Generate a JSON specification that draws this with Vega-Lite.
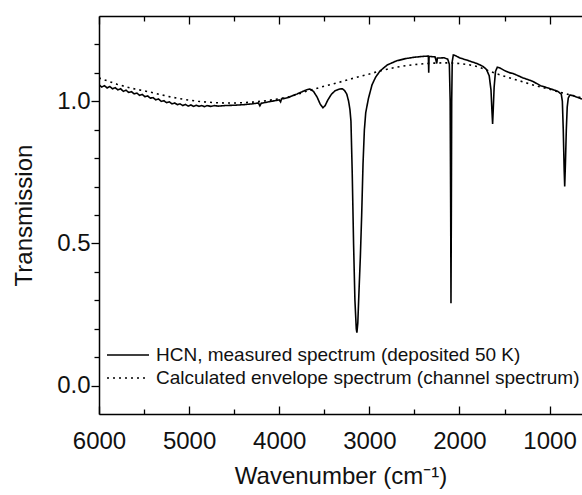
{
  "$schema": "https://vega.github.io/schema/vega-lite/v6.json",
  "width": 483,
  "height": 398,
  "autosize": {"type": "none"},
  "padding": {"left": 99, "top": 16, "right": 0, "bottom": 81},
  "background": "white",
  "config": {
    "view": {"stroke": null},
    "font": "Liberation Sans",
    "axis": {
      "grid": false,
      "domainColor": "black",
      "domainWidth": 1.5,
      "tickColor": "black",
      "tickWidth": 1.3,
      "labelColor": "#111",
      "titleColor": "#111",
      "labelFont": "Liberation Sans",
      "titleFont": "Liberation Sans",
      "labelFontSize": 24,
      "titleFontSize": 24,
      "titleFontWeight": "normal",
      "labelFlush": false,
      "labelOverlap": false,
      "labelBound": false
    }
  },
  "datasets": {
    "spec": [
      {"wn": 6000, "t": 1.058, "s": "a"}, {"wn": 5970, "t": 1.050, "s": "a"}, {"wn": 5940, "t": 1.055, "s": "a"},
      {"wn": 5910, "t": 1.047, "s": "a"}, {"wn": 5880, "t": 1.052, "s": "a"}, {"wn": 5850, "t": 1.044, "s": "a"},
      {"wn": 5820, "t": 1.048, "s": "a"}, {"wn": 5790, "t": 1.040, "s": "a"}, {"wn": 5760, "t": 1.044, "s": "a"},
      {"wn": 5730, "t": 1.035, "s": "a"}, {"wn": 5700, "t": 1.039, "s": "a"}, {"wn": 5670, "t": 1.031, "s": "a"},
      {"wn": 5640, "t": 1.034, "s": "a"}, {"wn": 5610, "t": 1.026, "s": "a"}, {"wn": 5580, "t": 1.029, "s": "a"},
      {"wn": 5550, "t": 1.021, "s": "a"}, {"wn": 5520, "t": 1.024, "s": "a"}, {"wn": 5490, "t": 1.016, "s": "a"},
      {"wn": 5460, "t": 1.019, "s": "a"}, {"wn": 5430, "t": 1.011, "s": "a"}, {"wn": 5400, "t": 1.013, "s": "a"},
      {"wn": 5370, "t": 1.005, "s": "a"}, {"wn": 5340, "t": 1.008, "s": "a"}, {"wn": 5310, "t": 1.000, "s": "a"},
      {"wn": 5280, "t": 1.002, "s": "a"}, {"wn": 5250, "t": 0.995, "s": "a"}, {"wn": 5220, "t": 0.998, "s": "a"},
      {"wn": 5190, "t": 0.991, "s": "a"}, {"wn": 5160, "t": 0.994, "s": "a"}, {"wn": 5130, "t": 0.988, "s": "a"},
      {"wn": 5100, "t": 0.991, "s": "a"}, {"wn": 5070, "t": 0.985, "s": "a"}, {"wn": 5040, "t": 0.989, "s": "a"},
      {"wn": 5010, "t": 0.983, "s": "a"}, {"wn": 4980, "t": 0.987, "s": "a"}, {"wn": 4950, "t": 0.982, "s": "a"},
      {"wn": 4920, "t": 0.986, "s": "a"}, {"wn": 4890, "t": 0.982, "s": "a"}, {"wn": 4860, "t": 0.985, "s": "a"},
      {"wn": 4830, "t": 0.981, "s": "a"}, {"wn": 4800, "t": 0.985, "s": "a"}, {"wn": 4760, "t": 0.982, "s": "a"},
      {"wn": 4720, "t": 0.985, "s": "a"}, {"wn": 4680, "t": 0.983, "s": "a"}, {"wn": 4600, "t": 0.985, "s": "a"},
      {"wn": 4500, "t": 0.986, "s": "a"}, {"wn": 4400, "t": 0.988, "s": "a"}, {"wn": 4300, "t": 0.991, "s": "a"},
      {"wn": 4230, "t": 0.994, "s": "a"}, {"wn": 4215, "t": 0.984, "s": "a"}, {"wn": 4200, "t": 0.993, "s": "a"},
      {"wn": 4100, "t": 0.999, "s": "a"}, {"wn": 4000, "t": 1.005, "s": "a"}, {"wn": 3985, "t": 0.998, "s": "a"},
      {"wn": 3975, "t": 1.008, "s": "a"}, {"wn": 3900, "t": 1.013, "s": "a"}, {"wn": 3850, "t": 1.020, "s": "a"},
      {"wn": 3800, "t": 1.026, "s": "a"}, {"wn": 3750, "t": 1.033, "s": "a"}, {"wn": 3700, "t": 1.040, "s": "a"},
      {"wn": 3660, "t": 1.043, "s": "a"}, {"wn": 3620, "t": 1.035, "s": "a"}, {"wn": 3580, "t": 1.015, "s": "a"},
      {"wn": 3545, "t": 0.990, "s": "a"}, {"wn": 3515, "t": 0.977, "s": "a"}, {"wn": 3490, "t": 0.985, "s": "a"},
      {"wn": 3460, "t": 1.005, "s": "a"}, {"wn": 3420, "t": 1.025, "s": "a"}, {"wn": 3380, "t": 1.037, "s": "a"},
      {"wn": 3330, "t": 1.043, "s": "a"}, {"wn": 3300, "t": 1.044, "s": "a"}, {"wn": 3275, "t": 1.038, "s": "a"},
      {"wn": 3250, "t": 1.025, "s": "a"}, {"wn": 3230, "t": 1.000, "s": "a"}, {"wn": 3215, "t": 0.970, "s": "a"},
      {"wn": 3204, "t": 0.930, "s": "a"}, {"wn": 3190, "t": 0.750, "s": "a"}, {"wn": 3175, "t": 0.500, "s": "a"},
      {"wn": 3160, "t": 0.300, "s": "a"}, {"wn": 3145, "t": 0.200, "s": "a"}, {"wn": 3138, "t": 0.186, "s": "a"},
      {"wn": 3128, "t": 0.220, "s": "a"}, {"wn": 3115, "t": 0.330, "s": "a"}, {"wn": 3100, "t": 0.450, "s": "a"},
      {"wn": 3085, "t": 0.600, "s": "a"}, {"wn": 3070, "t": 0.780, "s": "a"}, {"wn": 3055, "t": 0.900, "s": "a"},
      {"wn": 3040, "t": 0.960, "s": "a"}, {"wn": 3010, "t": 1.010, "s": "a"}, {"wn": 2970, "t": 1.058, "s": "a"},
      {"wn": 2930, "t": 1.085, "s": "a"}, {"wn": 2880, "t": 1.107, "s": "a"}, {"wn": 2800, "t": 1.128, "s": "a"},
      {"wn": 2700, "t": 1.142, "s": "a"}, {"wn": 2600, "t": 1.150, "s": "a"}, {"wn": 2500, "t": 1.155, "s": "a"},
      {"wn": 2400, "t": 1.158, "s": "a"}, {"wn": 2345, "t": 1.159, "s": "a"}, {"wn": 2341, "t": 1.100, "s": "a"},
      {"wn": 2337, "t": 1.158, "s": "a"}, {"wn": 2270, "t": 1.156, "s": "a"}, {"wn": 2252, "t": 1.133, "s": "a"},
      {"wn": 2245, "t": 1.152, "s": "a"}, {"wn": 2170, "t": 1.153, "s": "a"}, {"wn": 2130, "t": 1.148, "s": "a"},
      {"wn": 2112, "t": 1.130, "s": "a"}, {"wn": 2103, "t": 1.000, "s": "a"}, {"wn": 2097, "t": 0.600, "s": "a"},
      {"wn": 2094, "t": 0.290, "s": "a"}, {"wn": 2090, "t": 0.600, "s": "a"}, {"wn": 2086, "t": 1.000, "s": "a"},
      {"wn": 2080, "t": 1.140, "s": "a"}, {"wn": 2068, "t": 1.163, "s": "a"}, {"wn": 2040, "t": 1.160, "s": "a"},
      {"wn": 2000, "t": 1.153, "s": "a"}, {"wn": 1900, "t": 1.143, "s": "a"}, {"wn": 1800, "t": 1.132, "s": "a"},
      {"wn": 1740, "t": 1.123, "s": "a"}, {"wn": 1700, "t": 1.112, "s": "a"}, {"wn": 1670, "t": 1.090, "s": "a"},
      {"wn": 1650, "t": 1.040, "s": "a"}, {"wn": 1640, "t": 0.970, "s": "a"}, {"wn": 1632, "t": 0.920, "s": "a"},
      {"wn": 1625, "t": 0.970, "s": "a"}, {"wn": 1615, "t": 1.050, "s": "a"}, {"wn": 1600, "t": 1.105, "s": "a"},
      {"wn": 1580, "t": 1.120, "s": "a"}, {"wn": 1550, "t": 1.117, "s": "a"}, {"wn": 1500, "t": 1.108, "s": "a"},
      {"wn": 1440, "t": 1.100, "s": "a"}, {"wn": 1407, "t": 1.098, "s": "a"}, {"wn": 1300, "t": 1.083, "s": "a"},
      {"wn": 1185, "t": 1.070, "s": "a"}, {"wn": 1100, "t": 1.055, "s": "a"}, {"wn": 1000, "t": 1.045, "s": "a"},
      {"wn": 908, "t": 1.035, "s": "a"}, {"wn": 870, "t": 1.025, "s": "a"}, {"wn": 858, "t": 1.000, "s": "a"},
      {"wn": 848, "t": 0.900, "s": "a"}, {"wn": 838, "t": 0.760, "s": "a"}, {"wn": 832, "t": 0.700, "s": "a"},
      {"wn": 824, "t": 0.780, "s": "a"}, {"wn": 814, "t": 0.900, "s": "a"}, {"wn": 804, "t": 0.980, "s": "a"},
      {"wn": 792, "t": 1.012, "s": "a"}, {"wn": 775, "t": 1.022, "s": "a"}, {"wn": 740, "t": 1.020, "s": "a"},
      {"wn": 700, "t": 1.015, "s": "a"}, {"wn": 640, "t": 1.008, "s": "a"},
      {"wn": 6000, "t": 1.082, "s": "b"}, {"wn": 5900, "t": 1.071, "s": "b"}, {"wn": 5800, "t": 1.060, "s": "b"},
      {"wn": 5700, "t": 1.051, "s": "b"}, {"wn": 5600, "t": 1.043, "s": "b"}, {"wn": 5500, "t": 1.037, "s": "b"},
      {"wn": 5400, "t": 1.030, "s": "b"}, {"wn": 5300, "t": 1.022, "s": "b"}, {"wn": 5200, "t": 1.015, "s": "b"},
      {"wn": 5100, "t": 1.009, "s": "b"}, {"wn": 5000, "t": 1.004, "s": "b"}, {"wn": 4900, "t": 1.000, "s": "b"},
      {"wn": 4800, "t": 0.997, "s": "b"}, {"wn": 4700, "t": 0.995, "s": "b"}, {"wn": 4600, "t": 0.994, "s": "b"},
      {"wn": 4500, "t": 0.994, "s": "b"}, {"wn": 4400, "t": 0.995, "s": "b"}, {"wn": 4300, "t": 0.997, "s": "b"},
      {"wn": 4200, "t": 1.000, "s": "b"}, {"wn": 4100, "t": 1.004, "s": "b"}, {"wn": 4000, "t": 1.009, "s": "b"},
      {"wn": 3900, "t": 1.015, "s": "b"}, {"wn": 3800, "t": 1.024, "s": "b"}, {"wn": 3700, "t": 1.035, "s": "b"},
      {"wn": 3600, "t": 1.044, "s": "b"}, {"wn": 3500, "t": 1.053, "s": "b"}, {"wn": 3400, "t": 1.061, "s": "b"},
      {"wn": 3300, "t": 1.070, "s": "b"}, {"wn": 3200, "t": 1.079, "s": "b"}, {"wn": 3100, "t": 1.088, "s": "b"},
      {"wn": 3000, "t": 1.096, "s": "b"}, {"wn": 2900, "t": 1.105, "s": "b"}, {"wn": 2800, "t": 1.113, "s": "b"},
      {"wn": 2700, "t": 1.120, "s": "b"}, {"wn": 2600, "t": 1.125, "s": "b"}, {"wn": 2500, "t": 1.129, "s": "b"},
      {"wn": 2400, "t": 1.132, "s": "b"}, {"wn": 2300, "t": 1.134, "s": "b"}, {"wn": 2200, "t": 1.135, "s": "b"},
      {"wn": 2100, "t": 1.135, "s": "b"}, {"wn": 2000, "t": 1.133, "s": "b"}, {"wn": 1900, "t": 1.129, "s": "b"},
      {"wn": 1800, "t": 1.122, "s": "b"}, {"wn": 1700, "t": 1.110, "s": "b"}, {"wn": 1600, "t": 1.098, "s": "b"},
      {"wn": 1500, "t": 1.088, "s": "b"}, {"wn": 1400, "t": 1.078, "s": "b"}, {"wn": 1300, "t": 1.069, "s": "b"},
      {"wn": 1200, "t": 1.059, "s": "b"}, {"wn": 1100, "t": 1.050, "s": "b"}, {"wn": 1000, "t": 1.042, "s": "b"},
      {"wn": 900, "t": 1.033, "s": "b"}, {"wn": 800, "t": 1.025, "s": "b"}, {"wn": 700, "t": 1.017, "s": "b"},
      {"wn": 640, "t": 1.012, "s": "b"}
    ]
  },
  "data": {"name": "spec"},
  "layer": [
    {
      "mark": {"type": "line", "color": "black", "strokeWidth": 1.6, "clip": true},
      "encoding": {
        "x": {
          "field": "wn", "type": "quantitative",
          "scale": {"domain": [6000, 640], "nice": false, "zero": false},
          "axis": {
            "orient": "bottom",
            "values": [6000, 5500, 5000, 4500, 4000, 3500, 3000, 2500, 2000, 1500, 1000],
            "format": "d",
            "tickSize": {"condition": {"test": "datum.value % 1000 === 0", "value": -8}, "value": -5},
            "labelExpr": "datum.value % 1000 === 0 ? datum.label : ''",
            "labelPadding": 23,
            "title": "Wavenumber (cm⁻¹)",
            "titlePadding": 8
          }
        },
        "y": {
          "field": "t", "type": "quantitative",
          "scale": {"domain": [-0.1, 1.3], "nice": false, "zero": false},
          "axis": {
            "orient": "left",
            "values": [0, 0.1, 0.2, 0.3, 0.4, 0.5, 0.6, 0.7, 0.8, 0.9, 1, 1.1, 1.2],
            "format": ".1f",
            "tickSize": {"condition": {"test": "datum.value == 0 || datum.value == 0.5 || datum.value == 1", "value": 8}, "value": 5},
            "labelExpr": "(datum.value == 0 || datum.value == 0.5 || datum.value == 1) ? datum.label : ''",
            "labelPadding": 1,
            "title": "Transmission",
            "titlePadding": 20
          }
        },
        "strokeDash": {
          "field": "s", "type": "nominal",
          "scale": {"domain": ["a", "b"], "range": [[1, 0], [2, 4]]},
          "legend": {
            "orient": "none",
            "legendX": 7,
            "legendY": 329,
            "title": null,
            "padding": 0,
            "symbolType": "stroke",
            "symbolSize": 1764,
            "symbolStrokeWidth": 1.5,
            "symbolStrokeColor": "black",
            "clipHeight": 20,
            "rowPadding": 3,
            "labelOffset": 6,
            "labelFontSize": 19,
            "labelFont": "Liberation Sans",
            "labelColor": "#111",
            "labelLimit": 0,
            "labelExpr": "datum.label == 'a' ? 'HCN, measured spectrum (deposited 50 K)' : 'Calculated envelope spectrum (channel spectrum)'"
          }
        }
      }
    },
    {
      "mark": {"type": "point", "opacity": 0},
      "encoding": {
        "x": {
          "field": "wn", "type": "quantitative",
          "axis": {
            "orient": "top",
            "values": [6000, 5500, 5000, 4500, 4000, 3500, 3000, 2500, 2000, 1500, 1000],
            "tickSize": {"condition": {"test": "datum.value % 1000 === 0", "value": -8}, "value": -5},
            "labels": false,
            "title": null
          }
        },
        "y": {"field": "t", "type": "quantitative", "axis": null}
      }
    }
  ],
  "resolve": {"axis": {"x": "independent", "y": "independent"}}
}
